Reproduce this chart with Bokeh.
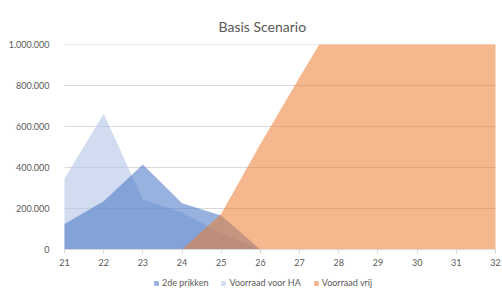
from bokeh.plotting import figure
from bokeh.models import FixedTicker, Legend, LegendItem, Range1d
from bokeh.embed import file_html
from bokeh.resources import INLINE

# --- data ---
weeks = [21, 22, 23, 24, 25, 26, 27, 28, 29, 30, 31, 32]
tweede_prikken = [125000, 235000, 415000, 226000, 166000, 0, 0, 0, 0, 0, 0, 0]
voorraad_ha = [345000, 662000, 244000, 180000, 80000, 0, 0, 0, 0, 0, 0, 0]
voorraad_vrij = [0, 0, 0, 0, 175000, 515000, 840000, 1160000, 1450000, 1700000, 1950000, 2200000]

series_names = ["2de prikken", "Voorraad voor HA", "Voorraad vrij"]
y_ticks = [0, 200000, 400000, 600000, 800000, 1000000]
y_labels = ["0", "200.000", "400.000", "600.000", "800.000", "1.000.000"]
title_text = "Basis Scenario"

FONT = "Lato"
TXT = "#595959"
GRID = "#D9D9D9"

# layout (pixels)
W, H = 502, 295
LEFT, TOP = 56, 44
PLOT_H = 205            # 0 .. 1M
PAD_L, PAD_R = 8, 7     # room for the first/last x tick label
BELOW = H - TOP - PLOT_H
FRAME_W = W - LEFT
px_per_week = (FRAME_W - PAD_L - PAD_R) / (weeks[-1] - weeks[0])

y_max = y_ticks[-1]
y_min = -y_max * BELOW / PLOT_H
x_min = weeks[0] - PAD_L / px_per_week
x_max = weeks[-1] + PAD_R / px_per_week

p = figure(width=W, height=H, output_backend="svg", toolbar_location=None,
           x_range=Range1d(x_min, x_max), y_range=Range1d(y_min, y_max),
           min_border_left=LEFT, min_border_right=0, min_border_top=TOP,
           min_border_bottom=0)

p.title.text = title_text
p.title.text_font = FONT
p.title.text_font_size = "14px"
p.title.text_font_style = "normal"
p.title.text_color = TXT
p.title.align = "left"
p.title.offset = 162
p.title.standoff = 19

# horizontal gridlines spanning the category extent only
p.segment(x0=[weeks[0]] * len(y_ticks), x1=[weeks[-1]] * len(y_ticks),
          y0=y_ticks, y1=y_ticks, line_color=GRID, line_width=1, level="underlay")

r_ha = p.varea(x=weeks, y1=0, y2=voorraad_ha, fill_color="#B4C7E7", fill_alpha=0.62)
r_2de = p.varea(x=weeks, y1=0, y2=tweede_prikken, fill_color="#4472C4", fill_alpha=0.55)
r_vrij = p.varea(x=weeks, y1=0, y2=voorraad_vrij, fill_color="#ED7D31", fill_alpha=0.55)

p.outline_line_color = None
p.background_fill_color = "white"
p.border_fill_color = "white"

p.xgrid.visible = False
p.ygrid.visible = False

p.xaxis.fixed_location = 0
p.xaxis.bounds = (weeks[0], weeks[-1])
p.xaxis.ticker = FixedTicker(ticks=weeks)
p.xaxis.axis_line_color = GRID
p.xaxis.major_tick_line_color = GRID
p.xaxis.major_tick_out = 4
p.xaxis.major_tick_in = 0
p.xaxis.minor_tick_line_color = None
p.xaxis.major_label_standoff = 5
p.xaxis.major_label_text_font = FONT
p.xaxis.major_label_text_font_size = "9px"
p.xaxis.major_label_text_color = TXT

p.yaxis.ticker = FixedTicker(ticks=y_ticks)
p.yaxis.major_label_overrides = {t: l for t, l in zip(y_ticks, y_labels)}
p.yaxis.axis_line_color = None
p.yaxis.major_tick_line_color = None
p.yaxis.minor_tick_line_color = None
p.yaxis.major_label_standoff = 1
p.yaxis.major_label_text_font = FONT
p.yaxis.major_label_text_font_size = "9px"
p.yaxis.major_label_text_color = TXT

legend = Legend(items=[LegendItem(label=series_names[0], renderers=[r_2de]),
                       LegendItem(label=series_names[1], renderers=[r_ha]),
                       LegendItem(label=series_names[2], renderers=[r_vrij])],
                orientation="horizontal", location=(97, 7))
legend.label_text_font = FONT
legend.label_text_font_size = "9px"
legend.label_text_color = TXT
legend.label_height = 10
legend.glyph_width = 6
legend.glyph_height = 6
legend.label_standoff = 3
legend.spacing = 12
legend.padding = 0
legend.margin = 0
legend.border_line_color = None
legend.background_fill_alpha = 0
p.add_layout(legend)

open("out.html", "w").write(file_html(p, INLINE))
